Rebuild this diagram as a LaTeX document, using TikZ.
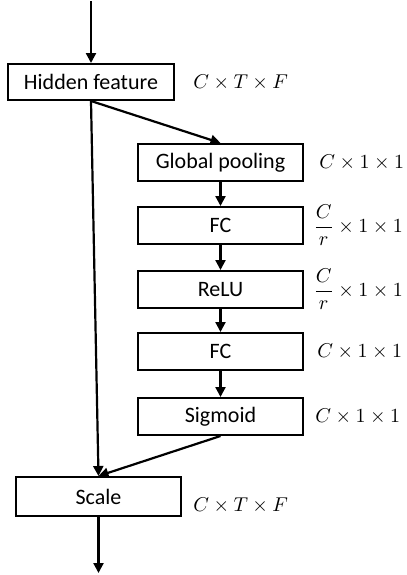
\documentclass[tikz,border=0pt]{standalone}
\usepackage{amsmath}
\usepackage{fontspec}
\setsansfont{Carlito}
\usetikzlibrary{arrows.meta,positioning,calc}
\tikzstyle{block} = [rectangle, draw, line width=1.1pt, fill=white,
    font=\sffamily\fontsize{11}{13}\selectfont,
    minimum width=82.4pt, minimum height=18.4pt, inner sep=0pt]
\tikzstyle{dims} = [inner sep=0pt, anchor=west]
\tikzstyle{flow} = [draw, line width=1.1pt, -{Triangle[width=5pt,length=5pt]}]

\begin{document}
\begin{tikzpicture}
    \node[block, minimum width=82.9pt, minimum height=17.9pt] (hidden) {Hidden feature};
    \useasboundingbox ($(hidden.north west)+(-3.5pt,31.5pt)$) rectangle ++(203.5pt,-287.5pt);

    \node[block, below right=21pt and -19pt of hidden] (pool) {Global pooling};
    \node[block, below=12pt of pool] (fc1) {FC};
    \node[block, below=12.5pt of fc1] (relu) {ReLU};
    \node[block, below=11.5pt of relu] (fc2) {FC};
    \node[block, below=13pt of fc2] (sigmoid) {Sigmoid};
    \node[block, below left=20pt and -22.5pt of sigmoid, minimum height=19.4pt] (scale) {Scale};

    \coordinate[above=31pt of hidden.north] (input);
    \coordinate[below=28pt of scale.south] (output);

    \node[dims, right=9pt of hidden.east] (hiddenDim) {$C\times T\times F$};
    \node[dims, right=7.5pt of pool.east] (poolDim) {$C\times 1\times 1$};
    \node[dims, right=4.5pt of fc1.east] (fc1Dim) {$\dfrac{C}{r}\times 1\times 1$};
    \node[dims, right=4.5pt of relu.east] (reluDim) {$\dfrac{C}{r}\times 1\times 1$};
    \node[dims, right=6.5pt of fc2.east] (fc2Dim) {$C\times 1\times 1$};
    \node[dims, right=5.5pt of sigmoid.east] (sigmoidDim) {$C\times 1\times 1$};
    \node[dims, right=5.5pt of scale.east, yshift=-4.5pt] (scaleDim) {$C\times T\times F$};

    \path[flow] (input) -- (hidden.north);
    \path[flow] (hidden.south) -- (pool.north);
    \path[flow] (hidden.south) -- (scale.north);
    \path[flow] (pool) -- (fc1);
    \path[flow] (fc1) -- (relu);
    \path[flow] (relu) -- (fc2);
    \path[flow] (fc2) -- (sigmoid);
    \path[flow] (sigmoid.south) -- (scale.north);
    \path[flow] (scale.south) -- (output);
\end{tikzpicture}
\end{document}
